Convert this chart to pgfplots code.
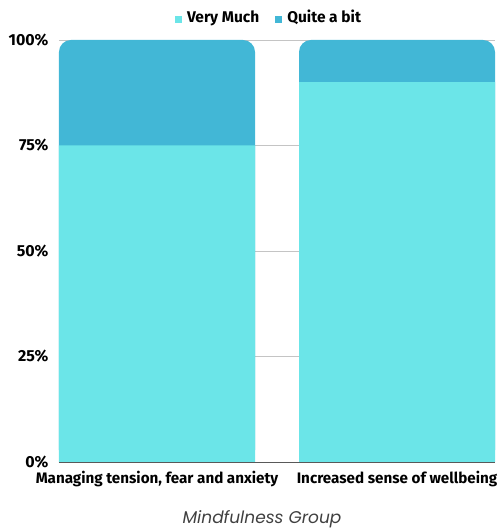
\documentclass[border=0pt]{standalone}
\usepackage{pgfplots}
\usepackage{pgfplotstable}
\pgfplotsset{compat=1.18}
\usepackage{fontspec}
\setmainfont{Fira Sans}
\newfontfamily\titlefont{Poppins}
\definecolor{vm}{HTML}{6BE5E8}
\definecolor{qb}{HTML}{42B7D6}
\definecolor{gridc}{HTML}{C4C4C4}
\pgfplotstableread{
x very quite
0 75 25
1 90 10
}\datatable
\begin{document}
\begin{tikzpicture}[x=1pt,y=1pt]
\path[use as bounding box] (-59,-67) rectangle (440,462);
\begin{axis}[
  at={(0,0)}, anchor=south west,
  scale only axis, width=436pt, height=422pt,
  xmin=-0.4083, xmax=1.4083, ymin=0, ymax=100,
  ybar, bar width=0.8167, bar shift=0pt,
  axis line style={draw=none},
  xtick={0,1}, xticklabels={{Managing tension, fear and anxiety}, {Increased sense of wellbeing}},
  x tick label style={font=\bfseries\fontsize{15.2}{17}\selectfont, yshift=-6pt},
  major tick length=0pt,
  ytick={0,25,50,75,100},
  yticklabel={\pgfmathprintnumber{\tick}\%},
  /pgf/number format/assume math mode=true,
  y tick label style={font=\bfseries\fontsize{16}{18}\selectfont, xshift=-7pt},
  ymajorgrids, grid style={draw=gridc, line width=0.6pt},
  clip=false,
]
\addplot[fill=qb, draw=none, rounded corners=12pt, forget plot] table[x=x, y expr=\thisrow{very}+\thisrow{quite}] {\datatable};
\addplot[fill=vm, draw=none, forget plot] table[x=x, y=very] {\datatable};
\draw[draw=black!65, line width=0.7pt] (axis cs:-0.4083,0) -- (axis cs:1.4083,0);
\end{axis}
\node[font=\bfseries\fontsize{15.5}{17}\selectfont, anchor=center] at (209,444) {%
  \textcolor{vm}{\rule{7pt}{7pt}}\hspace{5pt}Very Much\hspace{16pt}\textcolor{qb}{\rule{7pt}{7pt}}\hspace{5pt}Quite a bit};
\node[font=\titlefont\itshape\fontsize{17}{19}\selectfont, text=black!75] at (203,-57) {Mindfulness Group};
\end{tikzpicture}
\end{document}
